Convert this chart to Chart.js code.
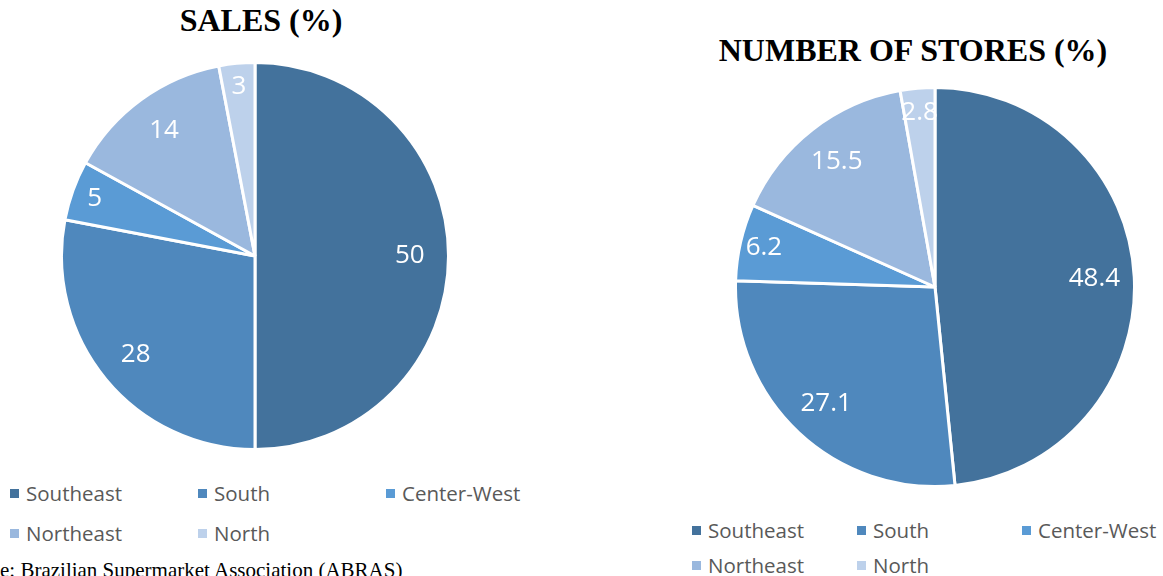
<!DOCTYPE html>
<html>
<head>
<meta charset="utf-8">
<script src="https://cdn.jsdelivr.net/npm/chart.js@4/dist/chart.umd.min.js"></script>
<style>
  body { margin: 0; background: #fff; width: 1163px; height: 576px; overflow: hidden; position: relative; }
  .title { position: absolute; font-family: "Liberation Serif", "Times New Roman", serif; font-weight: bold; font-size: 32px; color: #000; white-space: nowrap; transform: translateX(-50%); }
  canvas { position: absolute; }
  .legend { position: absolute; font-family: "Open Sans", "Noto Sans", sans-serif; font-size: 20.5px; color: #595959; }
  .legend .item { position: absolute; white-space: nowrap; }
  .legend .box { display: inline-block; width: 9px; height: 9px; margin-right: 7px; vertical-align: 3px; }
  .source { position: absolute; left: 0; top: 558px; font-family: "Liberation Serif", "Times New Roman", serif; font-size: 21px; color: #000; white-space: nowrap; }
</style>
</head>
<body>
<div class="title" style="left:261px; top:2px;">SALES (%)</div>
<div class="title" style="left:913px; top:32px;">NUMBER OF STORES (%)</div>
<canvas id="sales" width="390" height="390" style="left:60px; top:61px;"></canvas>
<canvas id="stores" width="402" height="402" style="left:734px; top:86px;"></canvas>
<div class="legend" id="legend-sales" style="left:10px; top:479px;"></div>
<div class="legend" id="legend-stores" style="left:692px; top:516px;"></div>
<div class="source">e: Brazilian Supermarket Association (ABRAS)</div>

<script>
// Regions, in drawing order (clockwise from the top)
const regions = ['Southeast', 'South', 'Center-West', 'Northeast', 'North'];
const regionColors = ['#43729c', '#4f88bd', '#5a9bd5', '#9ab8de', '#bdd1eb'];

// Share of sales (%)
const salesShare = [50, 28, 5, 14, 3];
// Share of number of stores (%)
const storesShare = [48.4, 27.1, 6.2, 15.5, 2.8];

// draws the value inside each slice (small slices get pushed outward a bit)
const sliceLabels = {
    id: 'sliceLabels',
    afterDatasetsDraw(chart) {
        const ctx = chart.ctx;
        const meta = chart.getDatasetMeta(0);
        const values = chart.data.datasets[0].data;
        ctx.save();
        ctx.fillStyle = '#ffffff';
        ctx.font = '26px "Open Sans", "Noto Sans", sans-serif';
        ctx.textAlign = 'center';
        ctx.textBaseline = 'middle';
        meta.data.forEach(function(arc, i) {
            const p = arc.getProps(['x', 'y', 'startAngle', 'endAngle', 'outerRadius'], true);
            const mid = (p.startAngle + p.endAngle) / 2;
            const r = p.outerRadius * (values[i] < 10 ? 0.88 : 0.8);
            ctx.fillText(String(values[i]), p.x + Math.cos(mid) * r, p.y + Math.sin(mid) * r);
        });
        ctx.restore();
    }
};

function makePie(id, values) {
    return new Chart(document.getElementById(id), {
        type: 'pie',
        data: {
            labels: regions,
            datasets: [{
                data: values,
                backgroundColor: regionColors,
                borderColor: '#ffffff',
                borderWidth: 3
            }]
        },
        options: {
            responsive: false,
            animation: false,
            layout: { padding: 0 },
            plugins: {
                legend: { display: false },
                tooltip: { enabled: false }
            }
        },
        plugins: [sliceLabels]
    });
}

function makeLegend(id, colStep, rowStep) {
    const el = document.getElementById(id);
    regions.forEach(function(name, i) {
        const item = document.createElement('div');
        item.className = 'item';
        item.style.left = (i % 3) * colStep + 'px';
        item.style.top = Math.floor(i / 3) * rowStep + 'px';
        item.innerHTML = '<span class="box" style="background:' + regionColors[i] + '"></span>' + name;
        el.appendChild(item);
    });
}

makePie('sales', salesShare);
makePie('stores', storesShare);
makeLegend('legend-sales', 188, 40);
makeLegend('legend-stores', 165, 35);
</script>
</body>
</html>
